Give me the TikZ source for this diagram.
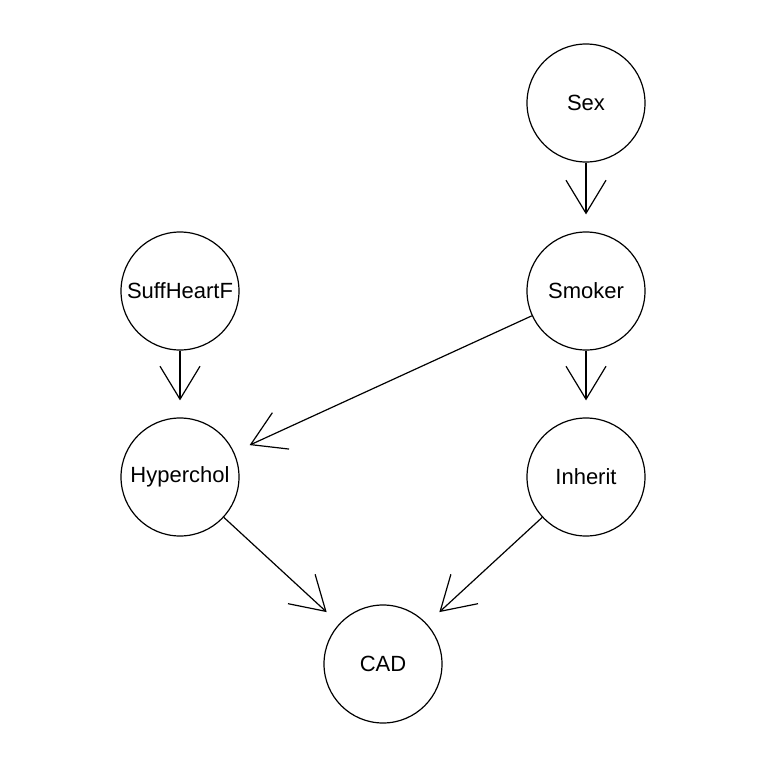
\documentclass[tikz,border=0pt]{standalone}
\usepackage{fontspec}
\setmainfont{Liberation Sans}
\usetikzlibrary{arrows.meta}
\tikzset{
    varnode/.style={
        draw=black, circle, line width=1.2pt,
        minimum size=118pt, inner sep=0pt,
        font=\fontsize{22}{26}\selectfont,
    },
    link/.style={
        -{Straight Barb[length=33pt,width=40pt,line width=1.2pt]},
        line width=1.2pt, shorten >=17pt,
    },
}

\begin{document}
\begin{tikzpicture}[x=1pt,y=-1pt]
\useasboundingbox[fill=white] (0,0) rectangle (768,768);

% Variables
\node[varnode] (sex) at (586,103) {Sex};
\node[varnode] (smoker) at (586,291) {Smoker};
\node[varnode] (suffheartf) at (180,291) {SuffHeartF};
\node[varnode] (hyperchol) at (180,477) {Hyperchol};
\node[varnode] (inherit) at (586,477) {Inherit};
\node[varnode] (cad) at (383,664) {CAD};

% Links
\draw[link] (sex) -- (smoker);
\draw[link] (suffheartf) -- (hyperchol);
\draw[link] (smoker) -- (hyperchol);
\draw[link] (smoker) -- (inherit);
\draw[link] (hyperchol) -- (cad);
\draw[link] (inherit) -- (cad);

\end{tikzpicture}
\end{document}
